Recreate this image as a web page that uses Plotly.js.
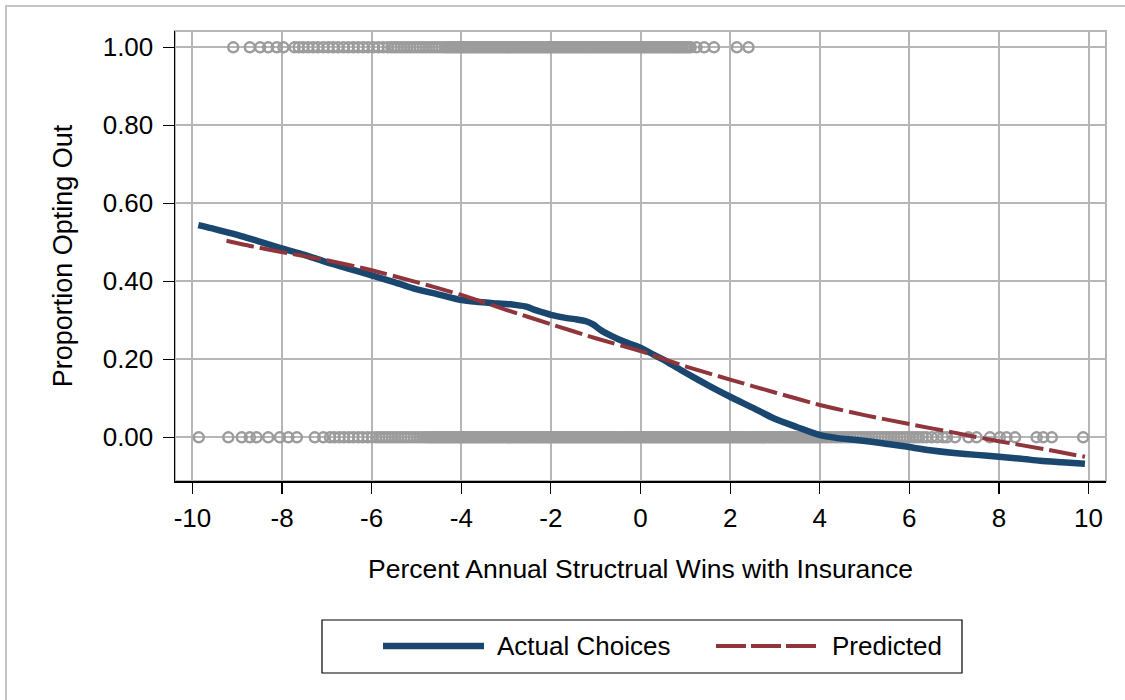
<!DOCTYPE html>
<html>
<head>
<meta charset="utf-8">
<script src="https://cdn.plot.ly/plotly-3.0.1.min.js"></script>
<style>
  html, body { margin: 0; padding: 0; background: #fff; }
  #chart { width: 1125px; height: 700px; }
</style>
</head>
<body>
<div id="chart"></div>
<script>
// Individual households by outcome, placed at their structural-win value
const optedOutX = [
  -9.09, -8.72, -8.49, -8.31, -8.12, -7.97,
  -7.72, -7.63, -7.53, -7.42, -7.31, -7.20, -7.08, -6.97, -6.86, -6.75, -6.63, -6.52, -6.41, -6.30,
  -6.19, -6.08, -5.96, -5.85, -5.74, -5.64,
  -5.56, -5.49, -5.42, -5.35, -5.28, -5.21, -5.14, -5.07, -5.00, -4.93, -4.86, -4.79, -4.72, -4.65,
  -4.58, -4.51, -4.44, -4.37,
  -4.32, -4.28, -4.23, -4.19, -4.14, -4.10, -4.05, -4.01, -3.96, -3.92, -3.87, -3.83, -3.78, -3.74,
  -3.69, -3.65, -3.60, -3.56, -3.51, -3.47, -3.42, -3.38, -3.33, -3.29, -3.24, -3.20, -3.15, -3.11,
  -3.06, -3.02, -2.97, -2.93, -2.88, -2.84, -2.79, -2.75, -2.70, -2.66, -2.61, -2.57, -2.52, -2.48,
  -2.43, -2.39, -2.34, -2.30, -2.25, -2.21, -2.16, -2.12, -2.07, -2.03, -1.98, -1.94, -1.89, -1.85,
  -1.80, -1.76, -1.71, -1.67, -1.62, -1.58, -1.53, -1.49, -1.44, -1.40, -1.35, -1.31, -1.26, -1.22,
  -1.17, -1.13, -1.08, -1.04, -0.99, -0.95, -0.90, -0.86, -0.81, -0.77, -0.72, -0.68, -0.63, -0.59,
  -0.54, -0.50, -0.45, -0.41, -0.36, -0.32, -0.27, -0.23, -0.18, -0.14, -0.09, -0.05, 0.00, 0.04,
  0.09, 0.13, 0.18, 0.22, 0.27, 0.31, 0.36, 0.40, 0.45, 0.49, 0.54, 0.58, 0.63, 0.67, 0.72, 0.76,
  0.81, 0.85, 0.90, 0.94, 0.99, 1.03, 1.08, 1.12,
  1.25, 1.42, 1.64, 2.15, 2.41
];
const stayedInX = [
  -9.86, -9.20, -8.90, -8.72, -8.57, -8.31, -8.05, -7.86, -7.67, -7.27, -7.08,
  -6.93, -6.83, -6.72, -6.62, -6.51, -6.41, -6.30, -6.20, -6.09, -5.99, -5.90, -5.83, -5.76, -5.69,
  -5.62, -5.55, -5.48, -5.41, -5.34, -5.27, -5.20, -5.13, -5.06, -4.99, -4.92, -4.85, -4.79,
  -4.75, -4.70, -4.66, -4.61, -4.57, -4.52, -4.48, -4.43, -4.39, -4.34, -4.30, -4.25, -4.21, -4.16,
  -4.12, -4.07, -4.03, -3.98, -3.94, -3.89, -3.85, -3.80, -3.76, -3.71, -3.67, -3.62, -3.58, -3.53,
  -3.49, -3.44, -3.40, -3.35, -3.31, -3.26, -3.22, -3.17, -3.13, -3.08, -3.04, -2.99, -2.95, -2.90,
  -2.86, -2.81, -2.77, -2.72, -2.68, -2.63, -2.59, -2.54, -2.50, -2.45, -2.41, -2.36, -2.32, -2.27,
  -2.23, -2.18, -2.14, -2.09, -2.05, -2.00, -1.96, -1.91, -1.87, -1.82, -1.78, -1.73, -1.69, -1.64,
  -1.60, -1.55, -1.51, -1.46, -1.42, -1.37, -1.33, -1.28, -1.24, -1.19, -1.15, -1.10, -1.06, -1.01,
  -0.97, -0.92, -0.88, -0.83, -0.79, -0.74, -0.70, -0.65, -0.61, -0.56, -0.52, -0.47, -0.43, -0.38,
  -0.34, -0.29, -0.25, -0.20, -0.16, -0.11, -0.07, -0.02, 0.02, 0.07, 0.11, 0.16, 0.20, 0.25,
  0.29, 0.34, 0.38, 0.43, 0.47, 0.52, 0.56, 0.61, 0.65, 0.70, 0.74, 0.79, 0.83, 0.88,
  0.92, 0.97, 1.01, 1.06, 1.10, 1.15, 1.19, 1.24, 1.28, 1.33, 1.37, 1.42, 1.46, 1.51,
  1.55, 1.60, 1.64, 1.69, 1.73, 1.78, 1.82, 1.87, 1.91, 1.96, 2.00, 2.05, 2.09, 2.14,
  2.18, 2.23, 2.27, 2.32, 2.36, 2.41, 2.45, 2.50, 2.54, 2.59, 2.63, 2.68, 2.72, 2.77,
  2.81, 2.86, 2.90, 2.95, 2.99, 3.04, 3.08, 3.13, 3.17, 3.22, 3.26, 3.31, 3.35, 3.40,
  3.44, 3.49, 3.53, 3.58, 3.62, 3.67, 3.71, 3.76, 3.80, 3.85, 3.89, 3.94, 3.98,
  4.05, 4.12, 4.19, 4.26, 4.33, 4.40, 4.47, 4.54, 4.61, 4.68, 4.75, 4.82, 4.89, 4.96, 5.03, 5.10,
  5.17, 5.24, 5.31, 5.38, 5.45, 5.52, 5.59, 5.66, 5.73, 5.80, 5.87, 5.94, 6.01, 6.08, 6.15, 6.22,
  6.30, 6.38, 6.50, 6.62, 6.75, 6.84, 7.02, 7.32, 7.50, 7.80, 8.02, 8.17, 8.36, 8.84, 8.99, 9.18, 9.88
];

// Smoothed share of households actually opting out
const actualX = [
  -9.87, -9.50, -9.00, -8.80, -8.50, -8.05, -7.50, -7.08, -6.50, -6.02, -5.50, -5.07, -4.50, -4.00,
  -3.60, -3.29, -3.00, -2.76, -2.55, -2.39, -2.20, -2.00, -1.70, -1.42, -1.20, -1.05, -0.90, -0.65,
  -0.38, 0.00, 0.29, 0.50, 0.88, 1.20, 1.50, 2.00, 2.50, 2.97, 3.50, 3.99, 4.40, 4.82, 5.40, 5.99,
  6.46, 7.00, 7.50, 8.00, 8.50, 8.92, 9.40, 9.92
];
const actualY = [
  0.544, 0.534, 0.519, 0.512, 0.502, 0.486, 0.468, 0.452, 0.432, 0.416, 0.398, 0.382, 0.366, 0.352,
  0.347, 0.344, 0.342, 0.339, 0.335, 0.328, 0.321, 0.314, 0.307, 0.302, 0.297, 0.289, 0.276, 0.260,
  0.246, 0.230, 0.212, 0.200, 0.174, 0.153, 0.134, 0.104, 0.076, 0.049, 0.026, 0.006, -0.002, -0.007,
  -0.015, -0.025, -0.033, -0.040, -0.045, -0.050, -0.055, -0.060, -0.064, -0.068
];

// Model-predicted share opting out
const predictedX = [
  -9.24, -8.64, -8.05, -7.00, -6.02, -5.00, -4.00, -3.00, -2.00, -1.00, 0.00, 0.74, 1.00, 2.00,
  3.00, 4.00, 5.00, 6.00, 7.00, 8.00, 9.00, 9.92
];
const predictedY = [
  0.504, 0.489, 0.476, 0.454, 0.429, 0.398, 0.365, 0.327, 0.290, 0.254, 0.221, 0.192, 0.182, 0.148,
  0.115, 0.083, 0.057, 0.034, 0.012, -0.010, -0.030, -0.050
];

const seriesNames = ["Actual Choices", "Predicted"];
const xTickVals = [-10, -8, -6, -4, -2, 0, 2, 4, 6, 8, 10];
const xTickText = ["-10", "-8", "-6", "-4", "-2", "0", "2", "4", "6", "8", "10"];
const yTickVals = [0, 0.2, 0.4, 0.6, 0.8, 1.0];
const yTickText = ["0.00", "0.20", "0.40", "0.60", "0.80", "1.00"];
const xTitle = "Percent Annual Structrual Wins with Insurance";
const yTitle = "Proportion Opting Out";

// Page geometry helpers (pixel -> paper fraction)
const W = 1125, H = 700;
const M = { l: 175, r: 19, t: 31, b: 219 };
const PW = W - M.l - M.r, PH = H - M.t - M.b;
const px = v => (v - M.l) / PW;
const py = v => (H - M.b - v) / PH;

const FONT = "Liberation Sans, Arial, Helvetica, sans-serif";
const NAVY = "#1a476f", MAROON = "#90353b", DOT = "#9c9c9c", GRID = "#b6b6b6";

const makeDots = () => ({
  symbol: "circle-open", size: 10, color: DOT,
  line: { width: 2.5, color: DOT }
});

const traces = [
  { x: stayedInX, y: stayedInX.map(() => 0), type: "scatter", mode: "markers",
    marker: makeDots(), showlegend: false, hoverinfo: "skip" },
  { x: optedOutX, y: optedOutX.map(() => 1), type: "scatter", mode: "markers",
    marker: makeDots(), showlegend: false, hoverinfo: "skip" },
  { x: actualX, y: actualY, type: "scatter", mode: "lines", name: seriesNames[0],
    line: { color: NAVY, width: 6.5, shape: "spline", smoothing: 0.7 }, showlegend: false },
  { x: predictedX, y: predictedY, type: "scatter", mode: "lines", name: seriesNames[1],
    line: { color: MAROON, width: 4, dash: "28px,6px", shape: "spline", smoothing: 0.5 },
    showlegend: false }
];

const axisCommon = {
  ticks: "outside", ticklen: 11, tickwidth: 1.2, tickcolor: "#000",
  showline: true, linecolor: "#000", linewidth: 1.5,
  showgrid: true, gridcolor: GRID, gridwidth: 2,
  zeroline: false, fixedrange: true,
  tickfont: { family: FONT, size: 26, color: "#000" }
};

const legendY = py(646);
const layout = {
  width: W, height: H,
  margin: M,
  paper_bgcolor: "#fff", plot_bgcolor: "#fff",
  showlegend: false,
  font: { family: FONT, color: "#000" },
  xaxis: Object.assign({}, axisCommon, {
    range: [-10.39, 10.39], tickmode: "array", tickvals: xTickVals, ticktext: xTickText,
    ticklabelstandoff: 2,
    title: { text: xTitle, font: { family: FONT, size: 26.5, color: "#000" }, standoff: 27 }
  }),
  yaxis: Object.assign({}, axisCommon, {
    range: [-0.112, 1.0418], tickmode: "array", tickvals: yTickVals, ticktext: yTickText,
    ticklabelstandoff: 4,
    title: { text: yTitle, font: { family: FONT, size: 27, color: "#000" }, standoff: 22 }
  }),
  shapes: [
    // outer frame of the graph
    { type: "rect", xref: "paper", yref: "paper", x0: px(6), x1: px(1140), y0: py(715), y1: py(6),
      line: { color: "#c4c4c4", width: 2 }, fillcolor: "rgba(0,0,0,0)", layer: "below" },
    // plot region frame
    { type: "rect", xref: "x domain", yref: "y domain", x0: 0, x1: 1, y0: 0, y1: 1,
      line: { color: GRID, width: 2 }, fillcolor: "rgba(0,0,0,0)", layer: "below" },
    // legend box and keys
    { type: "rect", xref: "paper", yref: "paper", x0: px(322), x1: px(962), y0: py(673), y1: py(620),
      line: { color: "#000", width: 1.2 }, fillcolor: "#fff" },
    { type: "line", xref: "paper", yref: "paper", x0: px(383), x1: px(484), y0: legendY, y1: legendY,
      line: { color: NAVY, width: 6.5 } },
    { type: "line", xref: "paper", yref: "paper", x0: px(716), x1: px(820), y0: legendY, y1: legendY,
      line: { color: MAROON, width: 4, dash: "30px,5px" } }
  ],
  annotations: [
    { xref: "paper", yref: "paper", x: px(495), y: legendY, xanchor: "left", yanchor: "middle",
      text: seriesNames[0], showarrow: false, font: { family: FONT, size: 26, color: "#000" } },
    { xref: "paper", yref: "paper", x: px(830), y: legendY, xanchor: "left", yanchor: "middle",
      text: seriesNames[1], showarrow: false, font: { family: FONT, size: 26, color: "#000" } }
  ]
};

Plotly.newPlot("chart", traces, layout, { displayModeBar: false, staticPlot: true });
</script>
</body>
</html>
